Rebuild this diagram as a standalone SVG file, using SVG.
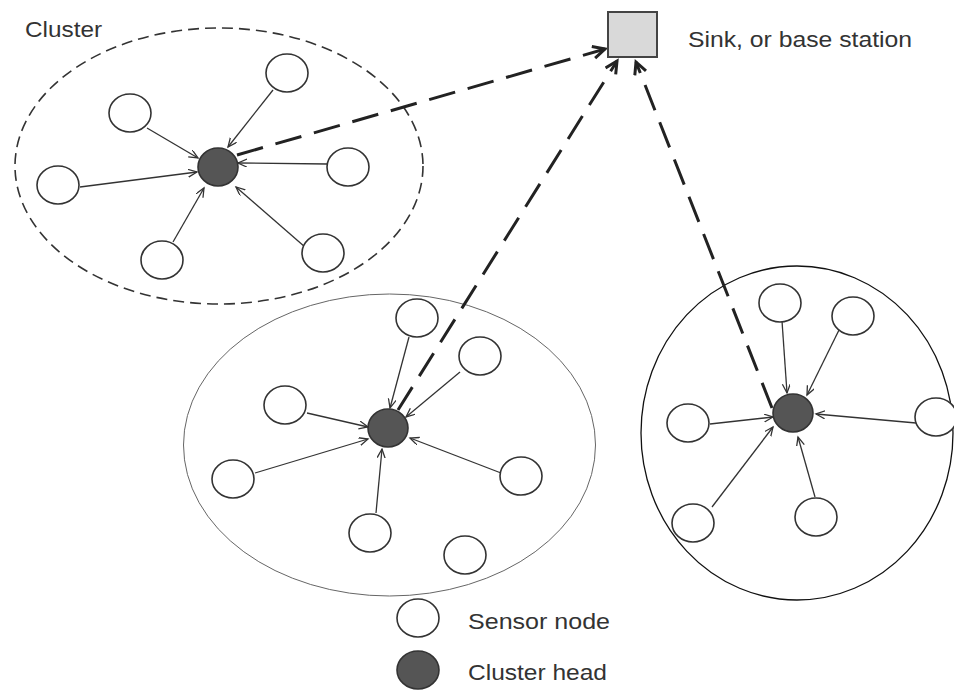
<svg xmlns="http://www.w3.org/2000/svg" width="954" height="691" viewBox="0 0 954 691">
<style>
.sn{fill:#fff;stroke:#333;stroke-width:1.6}
.ch{fill:#555;stroke:#333;stroke-width:1.6}
.a{stroke:#333;stroke-width:1.3;fill:none;marker-end:url(#sa)}
.d{stroke:#222;stroke-width:3;fill:none;stroke-dasharray:27 13;marker-end:url(#ba)}
.t{font-family:"Liberation Sans",Arial,sans-serif;font-size:22px;fill:#333}
</style>
<defs>
<marker id="sa" markerUnits="userSpaceOnUse" markerWidth="12" markerHeight="10" refX="9" refY="4" orient="auto">
<path d="M0,0 L9,4 L0,8" fill="none" stroke="#333" stroke-width="1.3"/>
</marker>
<marker id="ba" markerUnits="userSpaceOnUse" markerWidth="18" markerHeight="16" refX="13" refY="7" orient="auto">
<path d="M1,1 L13,7 L1,13" fill="none" stroke="#222" stroke-width="3"/>
</marker>
</defs>
<rect width="954" height="691" fill="#fff"/>

<g id="cluster1-boundary"><ellipse cx="219" cy="166" rx="204" ry="138" fill="none" stroke="#333" stroke-width="1.6" stroke-dasharray="11 6"/></g>
<g id="cluster2-boundary"><ellipse cx="389.5" cy="445" rx="206" ry="151" fill="none" stroke="#666" stroke-width="1"/></g>
<g id="cluster3-boundary"><ellipse cx="797" cy="433" rx="156" ry="167" fill="none" stroke="#111" stroke-width="1.3"/></g>

<g id="connectors">
<line class="a" x1="273" y1="90" x2="228" y2="147"/>
<line class="a" x1="147" y1="128" x2="198" y2="158"/>
<line class="a" x1="327" y1="164" x2="238" y2="163"/>
<line class="a" x1="80" y1="187" x2="197" y2="172"/>
<line class="a" x1="173" y1="242" x2="204" y2="188"/>
<line class="a" x1="305" y1="247" x2="236" y2="187"/>

<line class="a" x1="409" y1="337" x2="390" y2="408"/>
<line class="a" x1="460" y1="372" x2="406" y2="417"/>
<line class="a" x1="307" y1="413" x2="368" y2="427"/>
<line class="a" x1="255" y1="473" x2="368" y2="439"/>
<line class="a" x1="501" y1="473" x2="410" y2="438"/>
<line class="a" x1="376" y1="513" x2="382" y2="449"/>

<line class="a" x1="782" y1="321" x2="787" y2="393"/>
<line class="a" x1="839" y1="330" x2="807" y2="395"/>
<line class="a" x1="710" y1="424" x2="773" y2="417"/>
<line class="a" x1="916" y1="423" x2="816" y2="414"/>
<line class="a" x1="712" y1="507" x2="773" y2="427"/>
<line class="a" x1="815" y1="497" x2="798" y2="437"/>

<line class="d" x1="237" y1="155" x2="605" y2="49"/>
<line class="d" x1="398" y1="410" x2="617" y2="61"/>
<line class="d" x1="772" y1="408" x2="636" y2="62"/>
</g>

<g id="sink"><rect x="608" y="12" width="49" height="45" fill="#d9d9d9" stroke="#444" stroke-width="2"/></g>
<g id="sink-label"><text class="t" x="688" y="47" textLength="224" lengthAdjust="spacingAndGlyphs">Sink, or base station</text></g>
<g id="cluster-label"><text class="t" x="25" y="37" textLength="77" lengthAdjust="spacingAndGlyphs">Cluster</text></g>

<g id="c1-head"><ellipse class="ch" cx="218" cy="167" rx="20" ry="19"/></g>
<g id="c1-n1"><ellipse class="sn" cx="287" cy="73" rx="21" ry="19"/></g>
<g id="c1-n2"><ellipse class="sn" cx="130" cy="113" rx="21" ry="19"/></g>
<g id="c1-n3"><ellipse class="sn" cx="348" cy="167" rx="21" ry="19"/></g>
<g id="c1-n4"><ellipse class="sn" cx="58" cy="185" rx="21" ry="19"/></g>
<g id="c1-n5"><ellipse class="sn" cx="162" cy="260" rx="21" ry="19"/></g>
<g id="c1-n6"><ellipse class="sn" cx="323" cy="253" rx="21" ry="19"/></g>

<g id="c2-head"><ellipse class="ch" cx="388" cy="428" rx="20" ry="19"/></g>
<g id="c2-n1"><ellipse class="sn" cx="417" cy="318" rx="21" ry="19"/></g>
<g id="c2-n2"><ellipse class="sn" cx="480" cy="356" rx="21" ry="19"/></g>
<g id="c2-n3"><ellipse class="sn" cx="285" cy="405" rx="21" ry="19"/></g>
<g id="c2-n4"><ellipse class="sn" cx="233" cy="479" rx="21" ry="19"/></g>
<g id="c2-n5"><ellipse class="sn" cx="521" cy="476" rx="21" ry="19"/></g>
<g id="c2-n6"><ellipse class="sn" cx="370" cy="533" rx="21" ry="19"/></g>
<g id="c2-n7"><ellipse class="sn" cx="465" cy="555" rx="21" ry="19"/></g>

<g id="c3-head"><ellipse class="ch" cx="793" cy="413" rx="20" ry="19"/></g>
<g id="c3-n1"><ellipse class="sn" cx="780" cy="303" rx="21" ry="19"/></g>
<g id="c3-n2"><ellipse class="sn" cx="853" cy="316" rx="21" ry="19"/></g>
<g id="c3-n3"><ellipse class="sn" cx="688" cy="423" rx="21" ry="19"/></g>
<g id="c3-n4"><ellipse class="sn" cx="936" cy="417" rx="21" ry="19"/></g>
<g id="c3-n5"><ellipse class="sn" cx="693" cy="523" rx="21" ry="19"/></g>
<g id="c3-n6"><ellipse class="sn" cx="816" cy="517" rx="21" ry="19"/></g>

<g id="legend-sensor"><ellipse class="sn" cx="418" cy="618" rx="21" ry="19"/><text class="t" x="468" y="629" textLength="142" lengthAdjust="spacingAndGlyphs">Sensor node</text></g>
<g id="legend-head"><ellipse class="ch" cx="418" cy="670" rx="21" ry="19"/><text class="t" x="468" y="680" textLength="139" lengthAdjust="spacingAndGlyphs">Cluster head</text></g>
</svg>
